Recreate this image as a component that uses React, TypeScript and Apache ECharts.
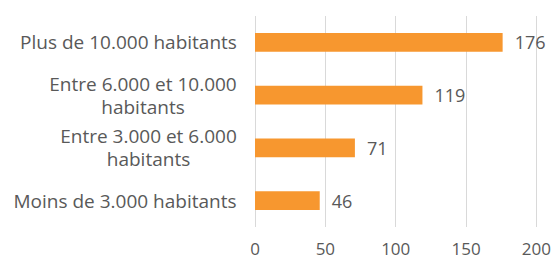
import React, { useEffect, useRef } from "react";
import * as echarts from "echarts";

const categories = [
  "Moins de 3.000 habitants",
  "Entre 3.000 et 6.000\nhabitants",
  "Entre 6.000 et 10.000\nhabitants",
  "Plus de 10.000 habitants",
];
const values = [46, 71, 119, 176];
const xTicks = [0, 50, 100, 150, 200];

const FONT = "Open Sans";
const TEXT = "#595959";
const LABEL_SIZE = 19;
const LINE_H = 23;

function measure(text: string): number {
  const c = document.createElement("canvas");
  const ctx = c.getContext("2d")!;
  ctx.font = `${LABEL_SIZE}px "${FONT}"`;
  return Math.ceil(ctx.measureText(text).width);
}

export default function App() {
  const ref = useRef<HTMLDivElement>(null);
  useEffect(() => {
    document.body.style.margin = "0";
    const chart = echarts.init(ref.current!, null, { renderer: "svg" });
    const widths = categories.map((c) =>
      Math.max(...c.split("\n").map((l) => measure(l)))
    );
    chart.setOption({
      animation: false,
      grid: { left: 255, right: 15, top: 16, height: 211, containLabel: false },
      xAxis: {
        type: "value",
        min: xTicks[0],
        max: xTicks[xTicks.length - 1],
        interval: 50,
        axisLine: { show: false },
        axisTick: { show: false },
        splitLine: { show: true, lineStyle: { color: "#d9d9d9", width: 1 } },
        axisLabel: { color: TEXT, fontFamily: FONT, fontSize: 17, margin: 13 },
      },
      yAxis: {
        type: "category",
        data: categories,
        axisLine: { show: false },
        axisTick: { show: false },
        axisLabel: {
          color: TEXT,
          fontFamily: FONT,
          fontSize: LABEL_SIZE,
          margin: 18,
          lineHeight: LINE_H,
          align: "right",
          formatter: (v: string, i: number) =>
            v
              .split("\n")
              .map((l) => `{c${i}|${l}}`)
              .join("\n"),
          rich: Object.fromEntries(
            widths.map((w, i) => [
              `c${i}`,
              {
                width: w,
                height: LINE_H,
                align: "center",
                color: TEXT,
                fontFamily: FONT,
                fontSize: LABEL_SIZE,
                lineHeight: LINE_H,
              },
            ])
          ),
        },
      },
      series: [
        {
          type: "bar",
          data: values,
          barWidth: "36%",
          itemStyle: { color: "#F7972F" },
          label: {
            show: true,
            position: "right",
            distance: 12,
            color: TEXT,
            fontFamily: FONT,
            fontSize: 18,
          },
        },
      ],
    });
    return () => chart.dispose();
  }, []);
  return <div ref={ref} style={{ width: 554, height: 259 }} />;
}
